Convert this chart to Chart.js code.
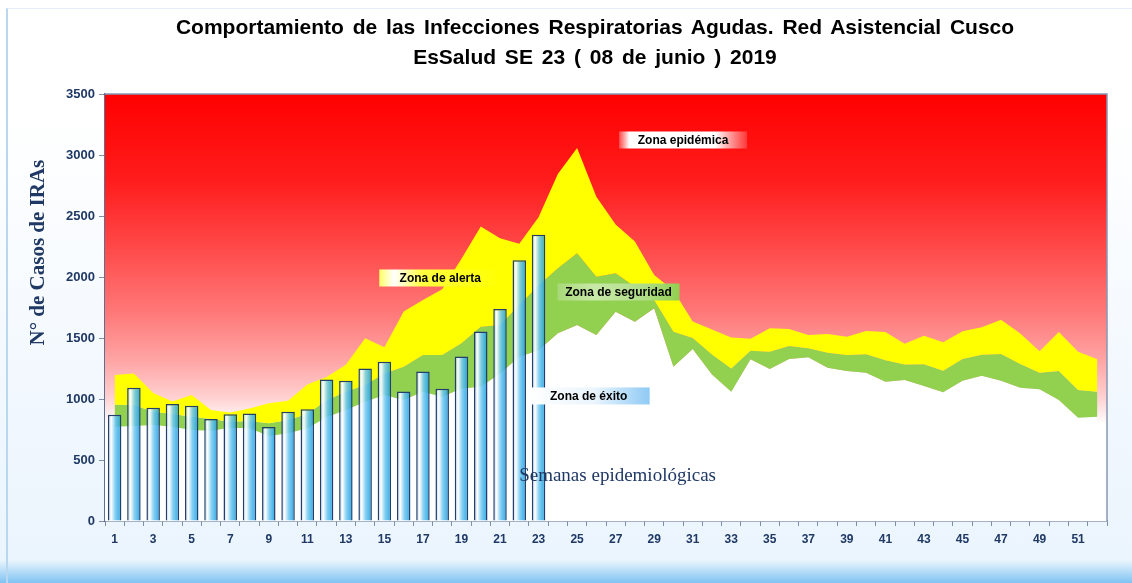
<!DOCTYPE html>
<html>
<head>
<meta charset="utf-8">
<script src="https://cdn.jsdelivr.net/npm/chart.js@4.4.1/dist/chart.umd.min.js"></script>
<style>
  html, body { margin: 0; padding: 0; }
  body {
    width: 1132px; height: 583px; overflow: hidden; position: relative;
    background: linear-gradient(180deg, #ffffff 0px, #ffffff 110px, #f0f7fe 430px, #ebf5fd 560px, #7fc3f3 583px);
  }
  #marco { position: absolute; left: 6px; top: 8px; width: 1126px; height: 575px;
    border-left: 2px solid #b9d7ef; border-top: 1px solid #e3eef8; box-sizing: border-box; }
  #titulo { position: absolute; left: 95px; top: 12px; width: 1000px; text-align: center;
    font: bold 21px "Liberation Sans", Arial, sans-serif; line-height: 30px; word-spacing: 3px; color: #000; }
  #wrap { position: absolute; left: 0; top: 0; width: 1132px; height: 583px; }
</style>
</head>
<body>
<div id="marco"></div>
<div id="wrap"><canvas id="chart" width="1132" height="583"></canvas></div>
<div id="titulo">Comportamiento de las Infecciones Respiratorias Agudas. Red Asistencial Cusco<br>EsSalud SE 23 ( 08 de junio ) 2019</div>
<script>
// Semanas epidemiologicas (eje X)
const semanas = ['1', '2', '3', '4', '5', '6', '7', '8', '9', '10', '11', '12', '13', '14', '15', '16', '17', '18', '19', '20',
    '21', '22', '23', '24', '25', '26', '27', '28', '29', '30', '31', '32', '33', '34', '35', '36', '37', '38', '39', '40',
    '41', '42', '43', '44', '45', '46', '47', '48', '49', '50', '51', '52'];

// Casos de IRAs 2019 (barras, SE 1 a 23)
const casos2019 = [870, 1093, 929, 959, 945, 836, 874, 882, 770, 896, 915, 1160, 1149, 1251, 1305, 1062, 1226, 1085, 1349, 1554,
    1737, 2138, 2346];

// Limites del canal endemico
const zonaExito = [773, 779, 787, 773, 746, 740, 765, 760, 697, 719, 760, 850, 910, 978, 1033, 992, 1060, 1019, 1087, 1101,
    1210, 1347, 1400, 1538, 1607, 1525, 1716, 1634, 1743, 1265, 1410, 1200, 1060, 1325, 1246, 1328, 1342, 1257, 1230, 1216,
    1142, 1156, 1107, 1055, 1150, 1191, 1150, 1093, 1079, 992, 847, 855];
const zonaSeguridad = [953, 951, 896, 877, 855, 836, 814, 820, 801, 828, 877, 990, 1060, 1115, 1210, 1265, 1361, 1361, 1456, 1593,
    1607, 1770, 1930, 2071, 2194, 2003, 2030, 1921, 1811, 1552, 1500, 1365, 1251, 1396, 1388, 1434, 1415, 1380, 1361, 1366,
    1318, 1283, 1284, 1232, 1328, 1363, 1369, 1287, 1216, 1230, 1074, 1060];
const zonaAlerta = [1197, 1210, 1050, 980, 1033, 910, 890, 923, 965, 985, 1118, 1180, 1280, 1497, 1425, 1718, 1811, 1900, 2150, 2413,
    2317, 2273, 2490, 2845, 3058, 2658, 2430, 2290, 2016, 1890, 1636, 1570, 1504, 1493, 1579, 1573, 1524, 1533, 1511, 1557,
    1550, 1452, 1519, 1465, 1556, 1589, 1650, 1536, 1392, 1549, 1388, 1325];

// Eje Y
const ticksY = [0, 500, 1000, 1500, 2000, 2500, 3000, 3500];

const azulTexto = '#1f3864';

// Degradado horizontal de cada barra
function rellenoBarra(ctx) {
    const chart = ctx.chart;
    if (!chart.chartArea) return '#7cc8ee';
    const x = chart.scales.x.getPixelForValue(ctx.dataIndex);
    const half = chart.scales.x.width / semanas.length * 0.35;
    const g = chart.ctx.createLinearGradient(x - half, 0, x + half, 0);
    g.addColorStop(0, 'rgba(170,205,230,0.9)');
    g.addColorStop(0.25, 'rgba(255,255,255,0.95)');
    g.addColorStop(0.55, 'rgba(115,200,240,0.88)');
    g.addColorStop(1, 'rgba(15,155,225,0.88)');
    return g;
}

// Fondo rojo degradado (zona epidemica)
const fondoPlugin = {
    id: 'fondo',
    beforeDatasetsDraw(chart) {
        const { ctx, chartArea } = chart;
        const y = chart.scales.y;
        const top = y.getPixelForValue(3500);
        const bottom = y.getPixelForValue(790);
        const g = ctx.createLinearGradient(0, top, 0, bottom);
        g.addColorStop(0, '#ff0000');
        g.addColorStop(0.26, '#ff1c1c');
        g.addColorStop(0.46, '#ff4848');
        g.addColorStop(0.66, '#ff7878');
        g.addColorStop(0.81, '#ffa6a6');
        g.addColorStop(0.915, '#ffcfcf');
        g.addColorStop(1, '#ffffff');
        ctx.save();
        ctx.fillStyle = '#ffffff';
        ctx.fillRect(chartArea.left, chartArea.top, chartArea.width, chartArea.height);
        ctx.fillStyle = g;
        ctx.fillRect(chartArea.left, chartArea.top, chartArea.width, bottom - chartArea.top);
        ctx.restore();
    }
};

// Rotulos de zonas, titulos de ejes y marco
function rotulo(ctx, texto, cx, cy, w, colores) {
    const h = 17;
    const g = ctx.createLinearGradient(cx - w / 2, 0, cx + w / 2, 0);
    colores.forEach(c => g.addColorStop(c[0], c[1]));
    ctx.fillStyle = g;
    ctx.fillRect(cx - w / 2, cy - h / 2, w, h);
    ctx.fillStyle = '#000';
    ctx.font = 'bold 12px "Liberation Sans", Arial, sans-serif';
    ctx.textAlign = 'center';
    ctx.textBaseline = 'middle';
    ctx.fillText(texto, cx, cy + 1);
}

const rotulosPlugin = {
    id: 'rotulos',
    afterDatasetsDraw(chart) {
        const { ctx, chartArea } = chart;
        const x = chart.scales.x, y = chart.scales.y;
        ctx.save();
        rotulo(ctx, 'Zona epidémica', x.getPixelForValue(29.5), y.getPixelForValue(3123), 128,
            [[0, 'rgba(255,80,80,0.9)'], [0.08, '#ffffff'], [0.75, '#ffffff'], [1, 'rgba(255,60,60,0.9)']]);
        rotulo(ctx, 'Zona de alerta', x.getPixelForValue(16.9), y.getPixelForValue(1992), 122,
            [[0, '#ffff66'], [0.12, '#ffffff'], [0.35, '#ffff40'], [1, '#ffff00']]);
        rotulo(ctx, 'Zona de seguridad', x.getPixelForValue(26.15), y.getPixelForValue(1877), 122,
            [[0, '#a8d878'], [0.3, '#c8e8a8'], [0.7, '#b0dc88'], [1, '#92d050']]);
        rotulo(ctx, 'Zona de éxito', x.getPixelForValue(24.6), y.getPixelForValue(1025), 122,
            [[0, '#ffffff'], [0.55, '#eaf5fd'], [1, '#8fcaf5']]);

        // Titulo del eje X dentro del area
        ctx.fillStyle = azulTexto;
        ctx.font = '19px "Liberation Serif", "Times New Roman", serif';
        ctx.textAlign = 'center';
        ctx.textBaseline = 'middle';
        ctx.fillText('Semanas epidemiológicas', x.getPixelForValue(26.1), y.getPixelForValue(369));

        // Titulo del eje Y
        ctx.translate(chartArea.left - 66, y.getPixelForValue(2200));
        ctx.rotate(-Math.PI / 2);
        ctx.font = 'bold 21px "Liberation Serif", "Times New Roman", serif';
        ctx.fillText('N° de Casos de IRAs', 0, 0);
        ctx.restore();

        // Marco superior y derecho
        ctx.save();
        ctx.strokeStyle = '#8798b5';
        ctx.lineWidth = 1.5;
        ctx.beginPath();
        ctx.moveTo(chartArea.left, chartArea.top);
        ctx.lineTo(chartArea.right, chartArea.top);
        ctx.lineTo(chartArea.right, chartArea.bottom);
        ctx.stroke();
        ctx.restore();
    }
};

const ctx = document.getElementById('chart').getContext('2d');
window.chart = new Chart(ctx, {
    type: 'bar',
    data: {
        labels: semanas,
        datasets: [
            {
                type: 'bar',
                label: 'Casos 2019',
                data: casos2019,
                backgroundColor: rellenoBarra,
                borderColor: '#243f6b',
                borderWidth: 1.5,
                barPercentage: 0.7,
                categoryPercentage: 1,
                order: 0
            },
            {
                type: 'line',
                label: 'Zona de éxito',
                data: zonaExito,
                borderWidth: 0,
                pointRadius: 0,
                backgroundColor: '#ffffff',
                fill: 'origin',
                order: 3
            },
            {
                type: 'line',
                label: 'Zona de seguridad',
                data: zonaSeguridad,
                borderWidth: 0,
                pointRadius: 0,
                backgroundColor: '#92d050',
                fill: '-1',
                order: 2
            },
            {
                type: 'line',
                label: 'Zona de alerta',
                data: zonaAlerta,
                borderWidth: 0,
                pointRadius: 0,
                backgroundColor: '#ffff00',
                fill: '-1',
                order: 1
            }
        ]
    },
    options: {
        responsive: false,
        animation: false,
        layout: { padding: { top: 94, right: 25, bottom: 32, left: 0 } },
        plugins: {
            legend: { display: false },
            tooltip: { enabled: false },
            title: { display: false }
        },
        scales: {
            x: {
                afterFit: (scale) => { scale.height = 30; },
                border: { color: '#5f6f8f', width: 1.5 },
                grid: { drawOnChartArea: false, drawTicks: true, tickLength: 5, color: '#7f8fa8' },
                ticks: {
                    autoSkip: false,
                    maxRotation: 0,
                    padding: 6,
                    color: azulTexto,
                    font: { family: '"Liberation Sans", Arial, sans-serif', size: 12, weight: 'bold' },
                    callback: function(value, index) { return index % 2 === 0 ? semanas[index] : ''; }
                }
            },
            y: {
                min: ticksY[0],
                max: ticksY[ticksY.length - 1],
                afterFit: (scale) => { scale.width = 105; },
                afterBuildTicks: (scale) => { scale.ticks = ticksY.map(v => ({ value: v })); },
                border: { color: '#5f6f8f', width: 1.5 },
                grid: { drawOnChartArea: false, drawTicks: true, tickLength: 6, color: '#7f8fa8' },
                ticks: {
                    padding: 4,
                    color: azulTexto,
                    font: { family: '"Liberation Sans", Arial, sans-serif', size: 13, weight: 'bold' },
                    callback: (value) => String(value)
                }
            }
        }
    },
    plugins: [fondoPlugin, rotulosPlugin]
});
</script>
</body>
</html>
